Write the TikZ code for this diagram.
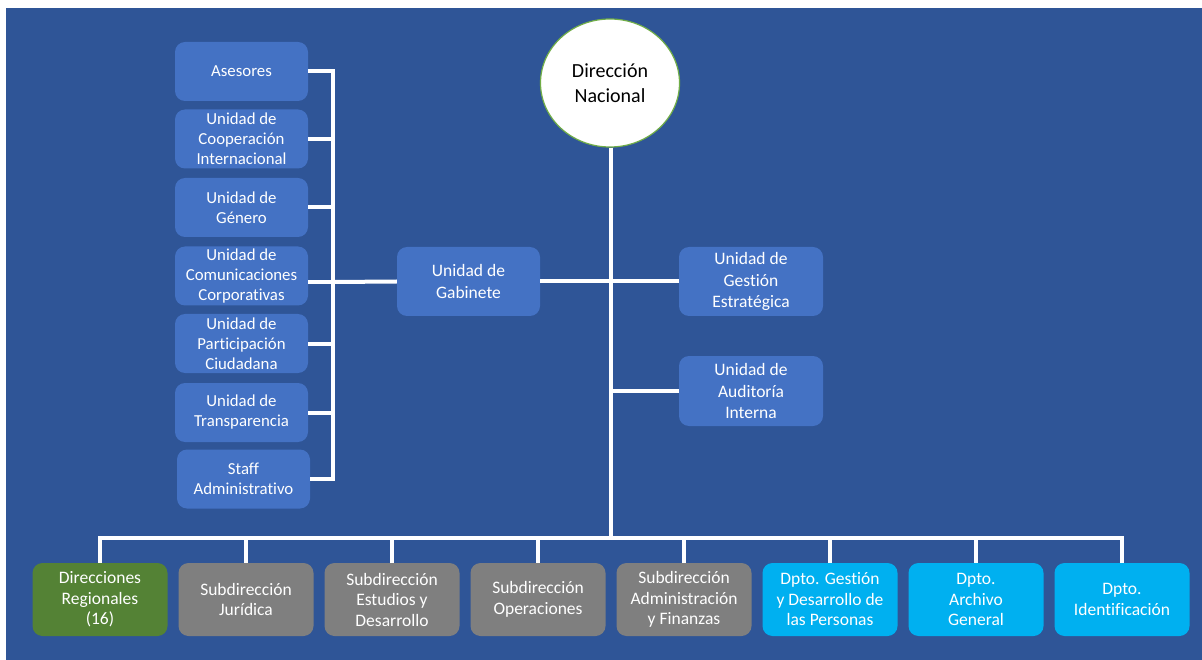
\documentclass[tikz,border=0pt]{standalone}
\usepackage{fontspec}
\setmainfont{Carlito}[Ligatures=NoCommon]
\usetikzlibrary{shapes.geometric}
\definecolor{fondo}{HTML}{2F5597}
\definecolor{azul}{HTML}{4472C4}
\definecolor{gris}{HTML}{7F7F7F}
\definecolor{verde}{HTML}{548235}
\definecolor{celeste}{HTML}{00B0F0}
\definecolor{borde}{HTML}{70AD47}
\tikzset{
  caja/.style={rounded corners=10pt, text=white, align=center, inner sep=0pt},
  unidad/.style={caja, fill=azul, minimum width=133pt, minimum height=59pt, font=\fontsize{16.8}{20}\selectfont},
  medio/.style={caja, fill=azul, minimum width=144pt, minimum height=69pt, font=\fontsize{17.5}{21.5}\selectfont},
  abajo/.style={caja, minimum width=135pt, minimum height=73pt, font=\fontsize{17.5}{20.5}\selectfont},
  linea/.style={draw=white, line width=4pt}
}
\begin{document}
\begin{tikzpicture}[x=1pt,y=-1pt]
                \useasboundingbox (0,0) rectangle (1202,660);
                \fill [white] (0,0) rectangle (1202,660);
                \fill [fondo] (6,8) rectangle (1202,660);
                % direccion nacional
                \node [ellipse, draw=borde, line width=1.2pt, fill=white, minimum width=139pt, minimum height=128pt, inner sep=0pt, align=center, font=\fontsize{20}{25}\selectfont] (dn) at (610,83) {Dirección\\Nacional};
                % unidades asesoras
                \node [unidad] (ases) at (241.5,71.5) {Asesores};
                \node [unidad] (coop) at (241.5,139) {Unidad de\\Cooperación\\Internacional};
                \node [unidad] (gen) at (241.5,207.5) {Unidad de\\Género};
                \node [unidad] (com) at (241.5,276) {Unidad de\\Comunicaciones\\Corporativas};
                \node [unidad] (part) at (241.5,343.5) {Unidad de\\Participación\\Ciudadana};
                \node [unidad] (transp) at (241.5,412.5) {Unidad de\\Transparencia};
                \node [unidad] (staff) at (243.5,479) {Staff\\Administrativo};
                \node [medio, minimum width=143pt] (gab) at (468.5,281.5) {Unidad de\\Gabinete};
                \node [medio] (gest) at (751,281.5) {Unidad de\\Gestión\\Estratégica};
                \node [medio, minimum height=70pt] (aud) at (751,391) {Unidad de\\Auditoría\\Interna};
                % nivel inferior
                \node [abajo, fill=verde] (reg) at (100,599.5) {Direcciones\\Regionales\\(16)};
                \node [abajo, fill=gris] (jur) at (246,599.5) {Subdirección\\Jurídica};
                \node [abajo, fill=gris] (est) at (392,599.5) {Subdirección\\Estudios y\\Desarrollo};
                \node [abajo, fill=gris] (ope) at (538,599.5) {Subdirección\\Operaciones};
                \node [abajo, fill=gris] (adm) at (684,599.5) {Subdirección\\Administración\\y Finanzas};
                \node [abajo, fill=celeste] (pers) at (830,599.5) {Dpto. Gestión\\y Desarrollo de\\las Personas};
                \node [abajo, fill=celeste] (arch) at (976,599.5) {Dpto.\\Archivo\\General};
                \node [abajo, fill=celeste] (ident) at (1122,599.5) {Dpto.\\Identificación};
                \coordinate (bus) at (333,282);
                \coordinate (barra) at (611,538);
                % conectores
                \draw [linea] (dn.south -| barra) -- (barra);
                \draw [linea] (gab.east) -- (gest.west);
                \draw [linea] (aud.west) -- (aud.west -| barra);
                \draw [linea] (gab.west) -- (bus);
                \draw [linea, line cap=rect] (bus |- ases.east) -- (bus |- staff.east);
                \draw [linea] (ases.east) -- (ases.east -| bus);
                \draw [linea] (coop.east) -- (coop.east -| bus);
                \draw [linea] (gen.east) -- (gen.east -| bus);
                \draw [linea] (com.east |- bus) -- (bus);
                \draw [linea] (part.east) -- (part.east -| bus);
                \draw [linea] (transp.east) -- (transp.east -| bus);
                \draw [linea] (staff.east) -- (staff.east -| bus);
                \draw [linea, line cap=rect] (reg.north |- barra) -- (ident.north |- barra);
                \draw [linea] (reg.north) -- (reg.north |- barra);
                \draw [linea] (jur.north) -- (jur.north |- barra);
                \draw [linea] (est.north) -- (est.north |- barra);
                \draw [linea] (ope.north) -- (ope.north |- barra);
                \draw [linea] (adm.north) -- (adm.north |- barra);
                \draw [linea] (pers.north) -- (pers.north |- barra);
                \draw [linea] (arch.north) -- (arch.north |- barra);
                \draw [linea] (ident.north) -- (ident.north |- barra);
            \end{tikzpicture}
\end{document}
